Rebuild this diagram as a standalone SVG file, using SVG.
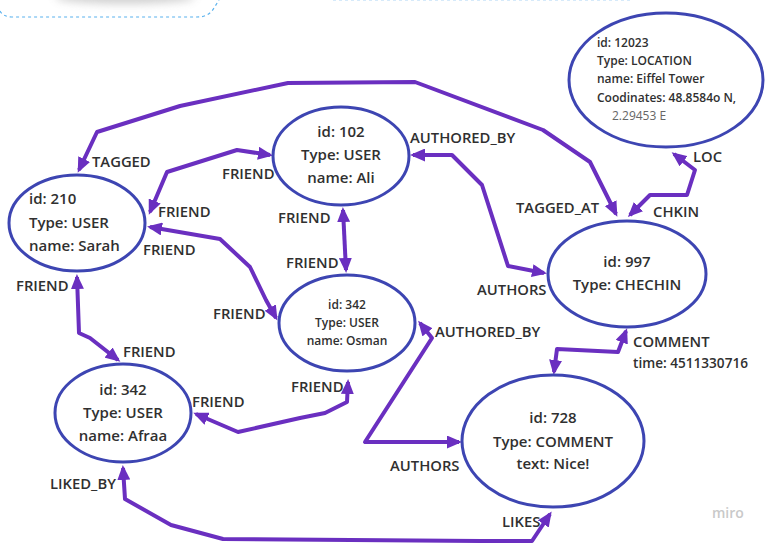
<svg xmlns="http://www.w3.org/2000/svg" width="765" height="543" viewBox="0 0 765 543">
  <defs>
    <style>
      .node { fill: #ffffff; stroke: #3d45b2; stroke-width: 3; }
      .edge { fill: none; stroke: #6a2fc0; stroke-width: 4; stroke-linejoin: round; marker-start: url(#ah); marker-end: url(#ah); }
      .t { font-family: "Open Sans", "Noto Sans", "Liberation Sans", sans-serif; font-weight: 600; fill: #303030; }
      .big { font-size: 15px; }
      .small { font-size: 12px; }
      .lbl { font-size: 14.8px; }
      .mid { text-anchor: middle; }
    </style>
    <marker id="ah" viewBox="0 0 15 13" markerWidth="15" markerHeight="13" refX="12" refY="6.5" markerUnits="userSpaceOnUse" orient="auto-start-reverse">
      <path d="M0,0 L15,6.5 L0,13 z" fill="#6a2fc0"/>
    </marker>
    <filter id="soft" x="-50%" y="-200%" width="200%" height="500%">
      <feGaussianBlur stdDeviation="4"/>
    </filter>
  </defs>

  <rect width="765" height="543" fill="#ffffff"/>

  <!-- frame edges cut off at the top -->
  <g id="frame-edges">
    <ellipse cx="125" cy="-3" rx="70" ry="7" fill="#9a9a9a" opacity="0.45" filter="url(#soft)"/>
    <path d="M0,11 Q3,17 13,17 H197 Q209,17 214,8 L219,0" fill="none" stroke="#5ab2ee" stroke-width="1.2" stroke-dasharray="3 3"/>
    <line x1="333" y1="0.5" x2="633" y2="0.5" stroke="#d6eafa" stroke-width="1.2" stroke-dasharray="3 3"/>
  </g>

  <g id="connectors">
    <!-- TAGGED / TAGGED_AT -->
    <polyline class="edge" points="79,170 97,132 180,106 288,83 415,82 543,130 590,162 616,214"/>
    <!-- LOC / CHKIN -->
    <polyline class="edge" points="630,215 650,195 687,195 695,170 674,154"/>
    <!-- Sarah - Ali FRIEND -->
    <polyline class="edge" points="150,212 167,172 237,150 270,155"/>
    <!-- Sarah - Osman FRIEND -->
    <polyline class="edge" points="150,227 220,239 250,267 266,300 276,318"/>
    <!-- Sarah - Afraa FRIEND -->
    <polyline class="edge" points="77,277 79,333 90,338 118,360"/>
    <!-- Ali - Osman FRIEND -->
    <polyline class="edge" points="343,210 346,270"/>
    <!-- Ali - Checkin AUTHORED_BY / AUTHORS -->
    <polyline class="edge" points="413,155 452,155 482,185 508,266 544,273"/>
    <!-- Osman - Comment AUTHORED_BY / AUTHORS -->
    <polyline class="edge" points="420,323 432,338 365,442 459,442"/>
    <!-- Checkin - Comment COMMENT -->
    <polyline class="edge" points="626,331 618,352 557,349 554,372"/>
    <!-- Osman - Afraa FRIEND -->
    <polyline class="edge" points="348,382 347,402 325,413 300,418 238,432 196,414"/>
    <!-- Afraa - Comment LIKED_BY / LIKES -->
    <polyline class="edge" points="123,468 125,499 171,525 223,539 480,541 532,541 550,514"/>
  </g>

  <g id="location">
    <ellipse class="node" cx="666" cy="80" rx="97" ry="67"/>
    <text class="t small" x="597" y="47">id: 12023</text>
    <text class="t small" x="597" y="65">Type: LOCATION</text>
    <text class="t small" x="597" y="83">name: Eiffel Tower</text>
    <text class="t small" x="597" y="102">Coodinates: 48.8584o N,</text>
    <text class="small" x="612" y="120" font-family="Open Sans, Noto Sans, Liberation Sans, sans-serif" fill="#666666">2.29453 E</text>
  </g>

  <g id="sarah">
    <ellipse class="node" cx="77" cy="223" rx="68" ry="48"/>
    <text class="t big" x="29" y="204">id: 210</text>
    <text class="t big" x="29" y="228">Type: USER</text>
    <text class="t big" x="29" y="251">name: Sarah</text>
  </g>

  <g id="ali">
    <ellipse class="node" cx="341" cy="156" rx="68" ry="49"/>
    <text class="t big mid" x="341" y="137">id: 102</text>
    <text class="t big mid" x="341" y="160">Type: USER</text>
    <text class="t big mid" x="341" y="183">name: Ali</text>
  </g>

  <g id="checkin">
    <ellipse class="node" cx="627" cy="274" rx="79" ry="53"/>
    <text class="t big mid" x="627" y="267">id: 997</text>
    <text class="t big mid" x="627" y="290">Type: CHECHIN</text>
  </g>

  <g id="osman">
    <ellipse class="node" cx="347" cy="323" rx="68" ry="48"/>
    <text class="t small mid" x="347" y="309">id: 342</text>
    <text class="t small mid" x="347" y="327">Type: USER</text>
    <text class="t small mid" x="347" y="345">name: Osman</text>
  </g>

  <g id="afraa">
    <ellipse class="node" cx="123" cy="413" rx="68" ry="49"/>
    <text class="t big mid" x="123" y="395">id: 342</text>
    <text class="t big mid" x="123" y="418">Type: USER</text>
    <text class="t big mid" x="123" y="441">name: Afraa</text>
  </g>

  <g id="comment">
    <ellipse class="node" cx="553" cy="441" rx="91" ry="66"/>
    <text class="t big mid" x="553" y="423">id: 728</text>
    <text class="t big mid" x="553" y="447">Type: COMMENT</text>
    <text class="t big mid" x="553" y="469">text: Nice!</text>
  </g>

  <g id="edge-labels">
    <text class="t lbl" x="92" y="167">TAGGED</text>
    <text class="t lbl" x="222" y="179">FRIEND</text>
    <text class="t lbl" x="158" y="217">FRIEND</text>
    <text class="t lbl" x="143" y="255">FRIEND</text>
    <text class="t lbl" x="16" y="291">FRIEND</text>
    <text class="t lbl" x="410" y="143">AUTHORED_BY</text>
    <text class="t lbl" x="278" y="223">FRIEND</text>
    <text class="t lbl" x="286" y="268">FRIEND</text>
    <text class="t lbl" x="516" y="213">TAGGED_AT</text>
    <text class="t lbl" x="653" y="217">CHKIN</text>
    <text class="t lbl" x="693" y="162">LOC</text>
    <text class="t lbl" x="477" y="295">AUTHORS</text>
    <text class="t lbl" x="435" y="337">AUTHORED_BY</text>
    <text class="t lbl" x="633" y="347">COMMENT</text>
    <text class="t" font-size="13.6" x="633" y="368">time: 4511330716</text>
    <text class="t lbl" x="213" y="319">FRIEND</text>
    <text class="t lbl" x="123" y="357">FRIEND</text>
    <text class="t lbl" x="192" y="407">FRIEND</text>
    <text class="t lbl" x="291" y="392">FRIEND</text>
    <text class="t lbl" x="390" y="471">AUTHORS</text>
    <text class="t lbl" x="50" y="489">LIKED_BY</text>
    <text class="t lbl" x="502" y="527">LIKES</text>
  </g>

  <text x="712" y="518" font-family="Open Sans, Noto Sans, Liberation Sans, sans-serif" font-size="14" font-weight="600" fill="#c9c9c9">miro</text>
</svg>
